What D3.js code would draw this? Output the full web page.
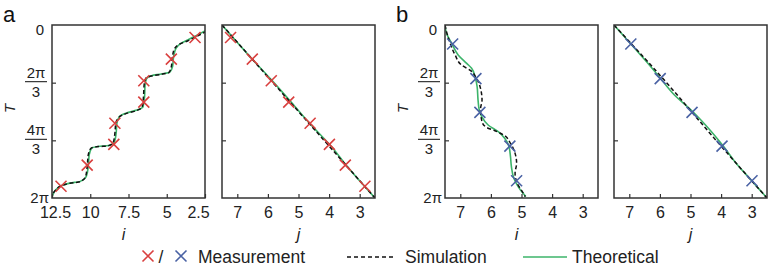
<!DOCTYPE html>
<html>
<head>
<meta charset="utf-8">
<script src="https://cdn.jsdelivr.net/npm/d3@7"></script>
<style>
  body { margin: 0; background: #fff; }
  svg { display: block; font-family: "Liberation Sans", Arial, sans-serif; }
</style>
</head>
<body>
<div id="chart-area"></div>
<script>
/* global d3 */
// T is given as a fraction of the period 2π
const aTicks = [12.5, 10, 7.5, 5, 2.5];
const jTicks = [7, 6, 5, 4, 3];

const aMeasT = [0.072, 0.197, 0.322, 0.446, 0.568, 0.690, 0.810, 0.932];
const aMeasI = [3.15, 4.70, 6.50, 6.50, 8.39, 8.46, 10.20, 11.91];
const aMeasJ = [7.22, 6.51, 5.89, 5.32, 4.62, 3.99, 3.47, 2.83];

const bMeasT = [0.11, 0.31, 0.505, 0.70, 0.90];
const bMeasI = [7.25, 6.49, 6.36, 5.38, 5.16];
const bMeasJ = [6.95, 5.99, 4.95, 3.97, 2.99];

// [position, T]
const aSimI = [[2.40,0.036],[3.07,0.067],[3.61,0.091],[4.15,0.110],[4.48,0.135],[4.63,0.183],[4.70,0.241],[4.87,0.276],[5.35,0.285],[6.00,0.295],[6.37,0.308],[6.48,0.347],[6.52,0.414],[6.61,0.476],[6.98,0.495],[7.63,0.511],[8.13,0.534],[8.33,0.568],[8.39,0.626],[8.50,0.680],[8.83,0.699],[9.48,0.703],[9.96,0.713],[10.13,0.751],[10.20,0.819],[10.31,0.877],[10.67,0.906],[11.33,0.915],[11.87,0.929],[12.26,0.954],[12.50,0.995]];
const aTheoI = [[2.40,0.030],[3.05,0.060],[3.60,0.085],[4.10,0.108],[4.40,0.135],[4.55,0.183],[4.62,0.241],[4.80,0.272],[5.35,0.283],[6.00,0.293],[6.32,0.310],[6.42,0.350],[6.45,0.414],[6.55,0.472],[6.95,0.492],[7.63,0.509],[8.10,0.530],[8.26,0.568],[8.31,0.626],[8.42,0.676],[8.80,0.697],[9.48,0.702],[9.92,0.712],[10.07,0.751],[10.13,0.819],[10.25,0.873],[10.65,0.904],[11.33,0.914],[11.87,0.928],[12.26,0.954],[12.50,0.995]];
const aSimJ = [[7.5,0],[5.0,0.5],[2.5,1]];
const aTheoJ = [[7.5,0],[6.55,0.19],[5.87,0.32],[5.22,0.45],[4.63,0.57],[3.94,0.70],[3.40,0.82],[2.5,1]];

const bSimI = [[7.5,0],[7.42,0.058],[7.31,0.116],[7.17,0.173],[6.96,0.231],[6.66,0.264],[6.49,0.302],[6.34,0.366],[6.29,0.434],[6.34,0.487],[6.29,0.559],[6.14,0.592],[5.87,0.611],[5.58,0.636],[5.36,0.684],[5.21,0.742],[5.16,0.799],[5.21,0.857],[5.14,0.915],[4.97,0.964],[4.88,0.992]];
const bTheoI = [[7.5,0],[7.45,0.048],[7.28,0.106],[7.07,0.173],[6.79,0.222],[6.63,0.250],[6.52,0.299],[6.45,0.356],[6.42,0.434],[6.38,0.491],[6.30,0.530],[6.09,0.578],[5.76,0.617],[5.55,0.655],[5.41,0.703],[5.36,0.761],[5.33,0.819],[5.25,0.886],[5.11,0.934],[4.95,0.973],[4.86,0.992]];
const bSimJ = [[7.5,0],[6.0,0.29],[4.05,0.69],[2.5,1]];
const bTheoJ = [[7.5,0],[7.02,0.095],[6.5,0.2],[6.02,0.30],[5.55,0.40],[4.93,0.5],[4.35,0.61],[3.93,0.70],[3.55,0.79],[3.0,0.9],[2.5,1]];

const red = "#d9403f", blue = "#4a62a4", green = "#3cb46a";

const W = 768, H = 279;
const pw = 153, ph = 173, topM = 25;

const svg = d3.select("#chart-area").append("svg")
  .attr("width", W).attr("height", H);

const panels = [
  { left: 52,  domain: [12.5, 2.5], ticks: aTicks, measT: aMeasT, meas: aMeasI, sim: aSimI, theo: aTheoI, color: red,  label: "i", yLabels: true, letter: "a" },
  { left: 222, domain: [7.5, 2.5],  ticks: jTicks, measT: aMeasT, meas: aMeasJ, sim: aSimJ, theo: aTheoJ, color: red,  label: "j" },
  { left: 445, domain: [7.5, 2.5],  ticks: jTicks, measT: bMeasT, meas: bMeasI, sim: bSimI, theo: bTheoI, color: blue, label: "i", yLabels: true, letter: "b" },
  { left: 614, domain: [7.5, 2.5],  ticks: jTicks, measT: bMeasT, meas: bMeasJ, sim: bSimJ, theo: bTheoJ, color: blue, label: "j" }
];

const y = d3.scaleLinear().domain([0, 1]).range([0, ph]);

panels.forEach(function(p, k) {
  let x = d3.scaleLinear().domain(p.domain).range([0, pw]);
  let g = svg.append("g").attr("transform", "translate(" + p.left + "," + topM + ")");

  g.append("clipPath").attr("id", "clip" + k)
    .append("rect").attr("width", pw).attr("height", ph);

  let line = d3.line()
    .x(function(d) { return x(d[0]); })
    .y(function(d) { return y(d[1]); })
    .curve(d3.curveMonotoneY);

  let plot = g.append("g").attr("clip-path", "url(#clip" + k + ")");
  plot.append("path").datum(p.theo)
    .attr("d", line).attr("fill", "none")
    .attr("stroke", green).attr("stroke-width", 1.6);
  plot.append("path").datum(p.sim)
    .attr("d", line).attr("fill", "none")
    .attr("stroke", "#111").attr("stroke-width", 1.5)
    .attr("stroke-dasharray", "4,2.5");

  plot.selectAll(".cross")
    .data(p.meas.map(function(v, n) { return [v, p.measT[n]]; }))
    .enter().append("path")
    .attr("class", "cross")
    .attr("transform", function(d) { return "translate(" + x(d[0]) + "," + y(d[1]) + ")"; })
    .attr("d", "M-5.5,-5.5L5.5,5.5M-5.5,5.5L5.5,-5.5")
    .attr("stroke", p.color).attr("stroke-width", 1.6).attr("fill", "none");

  // axes with inward ticks
  let xAxis = d3.axisBottom(x).tickValues(p.ticks)
    .tickFormat(function(d) { return String(d); })
    .tickSizeInner(-4).tickSizeOuter(0).tickPadding(9);
  let xg = g.append("g").attr("transform", "translate(0," + ph + ")").call(xAxis);
  xg.select(".domain").remove();
  xg.selectAll("line").attr("stroke", "#333").attr("stroke-width", 1.2);
  xg.selectAll("text").attr("font-size", 16).attr("fill", "#222")
    .attr("font-family", "Liberation Sans, Arial, sans-serif");
  if (k === 0) {
    xg.selectAll("text").attr("dx", function(d) { return d === 12.5 ? 3 : d === 2.5 ? -7 : 0; });
  }

  let yAxis = d3.axisLeft(y).tickValues([1 / 3, 2 / 3])
    .tickSizeInner(-4).tickSizeOuter(0).tickFormat("");
  let yg = g.append("g").call(yAxis);
  yg.select(".domain").remove();
  yg.selectAll("line").attr("stroke", "#333").attr("stroke-width", 1.2);

  g.append("rect").attr("width", pw).attr("height", ph)
    .attr("fill", "none").attr("stroke", "#333").attr("stroke-width", 1.5);

  g.append("text")
    .attr("x", pw / 2 - (p.label === "i" ? 5 : 0)).attr("y", ph + 42)
    .attr("text-anchor", "middle").attr("font-size", 16)
    .attr("font-style", "italic").attr("fill", "#222")
    .text(p.label);

  if (p.yLabels) {
    g.append("text").attr("x", -12).attr("y", y(0) + 10)
      .attr("text-anchor", "middle").attr("font-size", 15).attr("fill", "#222").text("0");
    [1 / 3, 2 / 3].forEach(function(t, n) {
      let fy = y(t);
      g.append("text").attr("x", -16).attr("y", fy - 5)
        .attr("text-anchor", "middle").attr("font-size", 15).attr("fill", "#222")
        .text(n === 0 ? "2π" : "4π");
      g.append("line").attr("x1", -27).attr("x2", -5)
        .attr("y1", fy - 1).attr("y2", fy - 1)
        .attr("stroke", "#222").attr("stroke-width", 1.1);
      g.append("text").attr("x", -16).attr("y", fy + 14)
        .attr("text-anchor", "middle").attr("font-size", 15).attr("fill", "#222").text("3");
    });
    g.append("text").attr("x", -3).attr("y", y(1) + 5)
      .attr("text-anchor", "end").attr("font-size", 15).attr("fill", "#222").text("2π");
    g.append("text")
      .attr("transform", "translate(-37," + (ph / 2 - 3) + ") rotate(-90)")
      .attr("text-anchor", "middle").attr("font-size", 15)
      .attr("font-style", "italic").attr("fill", "#222").text("T");
    svg.append("text").attr("x", p.left - 49).attr("y", 22)
      .attr("font-size", 22).attr("fill", "#111").text(p.letter);
  }
});

// legend
let lg = svg.append("g").attr("transform", "translate(0,256)");
lg.append("path").attr("transform", "translate(148,0)")
  .attr("d", "M-5.5,-5.5L5.5,5.5M-5.5,5.5L5.5,-5.5").attr("stroke", red).attr("stroke-width", 1.6);
lg.append("text").attr("x", 161).attr("y", 7).attr("text-anchor", "middle")
  .attr("font-size", 17.5).attr("fill", "#222").text("/");
lg.append("path").attr("transform", "translate(181,0)")
  .attr("d", "M-5.5,-5.5L5.5,5.5M-5.5,5.5L5.5,-5.5").attr("stroke", blue).attr("stroke-width", 1.6);
lg.append("text").attr("x", 198).attr("y", 7)
  .attr("font-size", 17.5).attr("fill", "#222").text("Measurement");
lg.append("line").attr("x1", 347).attr("x2", 393).attr("y1", 1).attr("y2", 1)
  .attr("stroke", "#111").attr("stroke-width", 1.5).attr("stroke-dasharray", "4,3");
lg.append("text").attr("x", 405).attr("y", 7)
  .attr("font-size", 17.5).attr("fill", "#222").text("Simulation");
lg.append("line").attr("x1", 523).attr("x2", 567).attr("y1", 1).attr("y2", 1)
  .attr("stroke", green).attr("stroke-width", 1.6);
lg.append("text").attr("x", 572).attr("y", 7)
  .attr("font-size", 17.5).attr("fill", "#222").text("Theoretical");
</script>
</body>
</html>
